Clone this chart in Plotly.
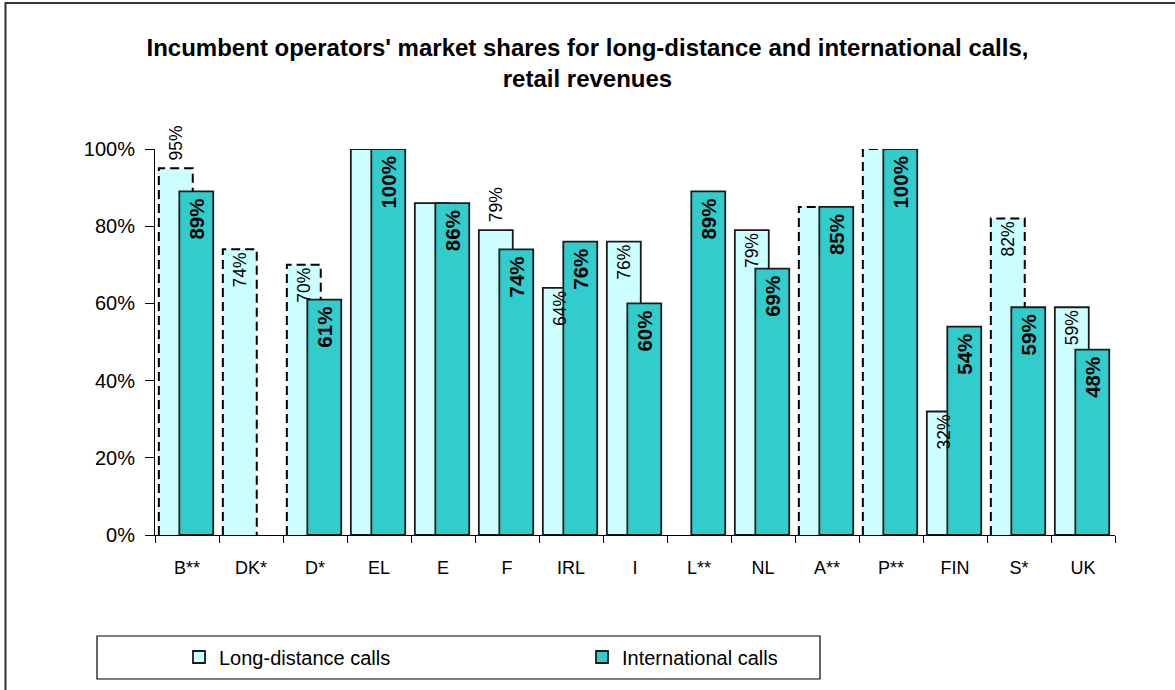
import plotly.graph_objects as go

# ---------------- data ----------------
categories = ["B**", "DK*", "D*", "EL", "E", "F", "IRL", "I", "L**", "NL", "A**", "P**", "FIN", "S*", "UK"]
long_distance = [0.95, 0.74, 0.70, 1.00, 0.86, 0.79, 0.64, 0.76, None, 0.79, 0.85, 1.00, 0.32, 0.82, 0.59]
international = [0.89, None, 0.61, 1.00, 0.86, 0.74, 0.76, 0.60, 0.89, 0.69, 0.85, 1.00, 0.54, 0.59, 0.48]
ld_estimated = [True, True, True, False, False, False, False, False, False, False, True, True, False, True, False]
ld_label_shown = [True, True, True, False, False, True, True, True, False, True, False, False, True, True, True]
ld_label_outside = [True, False, False, False, False, True, False, False, False, False, False, False, False, False, False]
y_ticks = [0, 0.2, 0.4, 0.6, 0.8, 1.0]

series_names = ["Long-distance calls", "International calls"]
title_text = "<b>Incumbent operators' market shares for long-distance and international calls,<br>retail revenues</b>"

# ---------------- style ----------------
LD_COLOR = "#CCFFFF"
INTL_COLOR = "#33CCCC"
EDGE = "#1a1a1a"
FONT = "Liberation Sans, Arial, sans-serif"
BAR_W = 0.53
LD_OFF = -0.44
INTL_OFF = -0.12

W, H = 1175, 690
ML, MR, MT, MB = 155, 60, 149, 155
PW, PH = W - ML - MR, H - MT - MB


def px_x(p):
    return (p - ML) / PW


def px_y(p):
    return (H - MB - p) / PH


def pct(v):
    return f"{round(v * 100)}%"


n = len(categories)
xpos = list(range(n))

fig = go.Figure()

# long-distance bars (solid outline only where not estimated)
fig.add_trace(go.Bar(
    x=xpos, y=long_distance, offset=LD_OFF, width=BAR_W,
    marker=dict(color=LD_COLOR,
                line=dict(color=EDGE, width=[0 if d else 1.8 for d in ld_estimated])),
    name=series_names[0], showlegend=False, hoverinfo="skip", cliponaxis=False,
))

# dashed outlines for estimated long-distance values
dx, dy = [], []
for i, (v, w, d) in enumerate(zip(long_distance, international, ld_estimated)):
    if not d or v is None:
        continue
    xl = i + LD_OFF
    xr = xl + BAR_W
    xi = i + INTL_OFF
    dx += [xl, xl]
    dy += [0, v]
    if w is not None and w >= v:
        dx += [xi]
        dy += [v]
    else:
        dx += [xr, xr]
        dy += [v, w if w is not None else 0]
    dx.append(None)
    dy.append(None)
fig.add_trace(go.Scatter(
    x=dx, y=dy, mode="lines", line=dict(color="black", width=2, dash="9px,5px"),
    showlegend=False, hoverinfo="skip", cliponaxis=False,
))

# international bars
fig.add_trace(go.Bar(
    x=xpos, y=international, offset=INTL_OFF, width=BAR_W,
    marker=dict(color=INTL_COLOR, line=dict(color=EDGE, width=1.8)),
    text=[pct(v) + "\u2009" if v is not None else "" for v in international],
    textposition="inside", insidetextanchor="end", textangle=-90,
    insidetextfont=dict(family=FONT, size=20.5, color="black", weight="bold"),
    constraintext="none",
    name=series_names[1], showlegend=True, legendrank=2, hoverinfo="skip", cliponaxis=False,
))

# long-distance labels (drawn on top)
ld_text = []
for v, s, o in zip(long_distance, ld_label_shown, ld_label_outside):
    if v is None or not s:
        ld_text.append("")
    else:
        ld_text.append(("\u00a0" if o else "") + pct(v))
fig.add_trace(go.Bar(
    x=xpos, y=long_distance, offset=LD_OFF, width=BAR_W,
    marker=dict(color="rgba(0,0,0,0)", line=dict(width=0)),
    text=ld_text,
    textposition=["outside" if o else "inside" for o in ld_label_outside],
    insidetextanchor="end", textangle=-90,
    insidetextfont=dict(family=FONT, size=17.5, color="black"),
    outsidetextfont=dict(family=FONT, size=17.5, color="black"),
    constraintext="none",
    showlegend=False, hoverinfo="skip", cliponaxis=False,
))

# legend entry for long-distance
fig.add_trace(go.Bar(
    x=[None], y=[None], marker=dict(color=LD_COLOR, line=dict(color=EDGE, width=1.8)),
    name=series_names[0], showlegend=True, legendrank=1, hoverinfo="skip",
))

shapes = [
    # outer chart frame
    dict(type="rect", xref="paper", yref="paper",
         x0=px_x(5.5), x1=px_x(W + 10), y0=px_y(H + 10), y1=px_y(3),
         line=dict(color="#333333", width=2), fillcolor="rgba(0,0,0,0)", layer="below"),
    # legend frame
    dict(type="rect", xref="paper", yref="paper",
         x0=px_x(97), x1=px_x(820), y0=px_y(679), y1=px_y(636),
         line=dict(color="black", width=1.2), fillcolor="rgba(0,0,0,0)", layer="below"),
]

fig.update_layout(
    width=W, height=H,
    margin=dict(l=ML, r=MR, t=MT, b=MB, pad=0),
    paper_bgcolor="white", plot_bgcolor="white",
    barmode="overlay",
    font=dict(family=FONT, color="black"),
    title=dict(text=title_text, x=0.5, xref="container", xanchor="center",
               y=1 - 56 / H, yref="container", yanchor="middle",
               font=dict(family=FONT, size=24, color="black")),
    xaxis=dict(
        range=[-0.5, n - 0.5], tickmode="array", tickvals=xpos, ticktext=categories,
        ticks="", showline=True, linecolor="black", linewidth=1, showgrid=False, zeroline=False,
        tickfont=dict(family=FONT, size=18, color="black"), ticklabelstandoff=16,
        minor=dict(tickmode="array", tickvals=[i - 0.5 for i in range(n + 1)],
                   ticks="outside", ticklen=7, tickcolor="black", tickwidth=1, showgrid=False),
    ),
    yaxis=dict(
        range=[0, 1], tickmode="array", tickvals=y_ticks, tickformat=".0%",
        ticks="outside", ticklen=9, tickcolor="black", showline=True, linecolor="black",
        linewidth=1, showgrid=False, zeroline=False,
        tickfont=dict(family=FONT, size=20, color="black"), ticklabelstandoff=6,
    ),
    legend=dict(orientation="h", x=px_x(179), xanchor="left", y=px_y(657), yanchor="middle",
                font=dict(family=FONT, size=20, color="black"), entrywidth=358,
                bgcolor="rgba(0,0,0,0)", borderwidth=0, traceorder="normal"),
    shapes=shapes,
    showlegend=True,
)

fig.write_html("out.html", config={"displayModeBar": False},
               post_script="document.body.style.margin='0';")
